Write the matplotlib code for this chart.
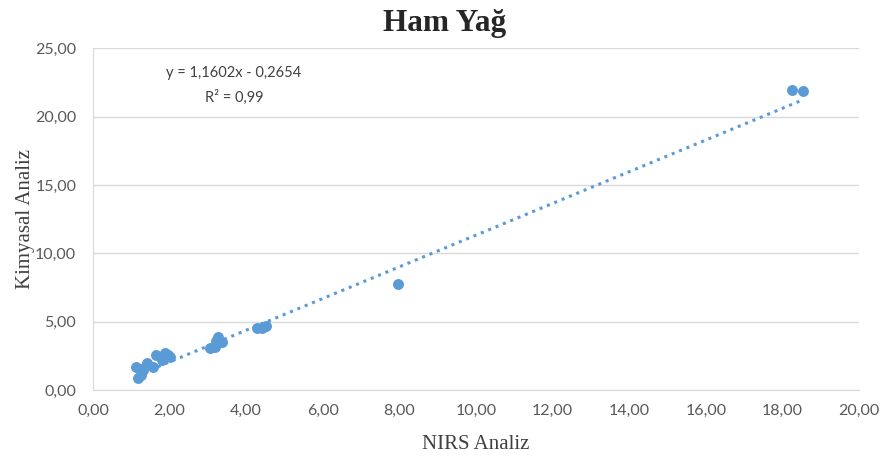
import matplotlib
matplotlib.use("Agg")
import matplotlib.pyplot as plt
import numpy as np
from matplotlib.ticker import FuncFormatter, MultipleLocator

# Data
nirs = [1.12, 1.25, 1.40, 1.57, 1.31, 1.17, 1.22, 1.64, 1.88, 2.00, 1.79, 1.95,
        3.27, 3.18, 3.36, 3.05, 3.22, 4.27, 4.53, 4.40, 7.97, 18.24, 18.53]
kimyasal = [1.70, 1.10, 1.98, 1.70, 1.46, 0.90, 1.55, 2.56, 2.70, 2.44, 2.20, 2.55,
            3.90, 3.17, 3.54, 3.05, 3.60, 4.56, 4.70, 4.55, 7.76, 21.95, 21.85]
slope = 1.1602
intercept = -0.2654
r2_text = "0,99"

title = "Ham Yağ"
xlabel = "NIRS Analiz"
ylabel = "Kimyasal Analiz"

blue = "#5B9BD5"

fig = plt.figure(figsize=(8.82, 4.57), dpi=100)
ax = fig.add_axes([0.1054, 0.1466, 0.974 - 0.1054, 0.894 - 0.1466])

ax.scatter(nirs, kimyasal, s=62, color=blue, zorder=3, linewidths=0)
xs = np.array([min(nirs), max(nirs)])
ax.plot(xs, slope * xs + intercept, linestyle=(0, (1, 1.6)), color=blue, lw=2.2, zorder=2)

ax.set_xlim(0, 20)
ax.set_ylim(0, 25)
ax.xaxis.set_major_locator(MultipleLocator(2))
ax.yaxis.set_major_locator(MultipleLocator(5))
fmt = FuncFormatter(lambda v, p: f"{v:.2f}".replace(".", ","))
ax.xaxis.set_major_formatter(fmt)
ax.yaxis.set_major_formatter(fmt)

ax.grid(axis="y", color="#d9d9d9", lw=1)
ax.set_axisbelow(True)
for s in ["top", "right"]:
    ax.spines[s].set_visible(False)
ax.spines["left"].set_color("#d9d9d9")
ax.spines["bottom"].set_color("#d9d9d9")
ax.tick_params(axis="y", length=0, labelsize=11.5, labelcolor="#595959", pad=12)
ax.tick_params(axis="x", length=0, labelsize=11.5, labelcolor="#595959", pad=10)
for lab in ax.get_xticklabels() + ax.get_yticklabels():
    lab.set_family("Lato")

ax.set_xlabel(xlabel, family="Liberation Serif", fontsize=15, color="#404040", labelpad=12)
ax.set_ylabel(ylabel, family="Liberation Serif", fontsize=15, color="#404040", labelpad=0)
fig.text(0.5035, 0.948, title, family="Liberation Serif", fontweight="bold",
         fontsize=22.5, color="#262626", ha="center", va="center")

ax.text(3.68, 23.2, f"y = {slope:.4f}x - {abs(intercept):.4f}".replace(".", ","),
        family="Lato", fontsize=10.5, color="#404040", ha="center", va="center")
ax.text(3.68, 21.45, f"R² = {r2_text}", family="Lato", fontsize=10.5,
        color="#404040", ha="center", va="center")

fig.savefig("out.png", dpi=100)
